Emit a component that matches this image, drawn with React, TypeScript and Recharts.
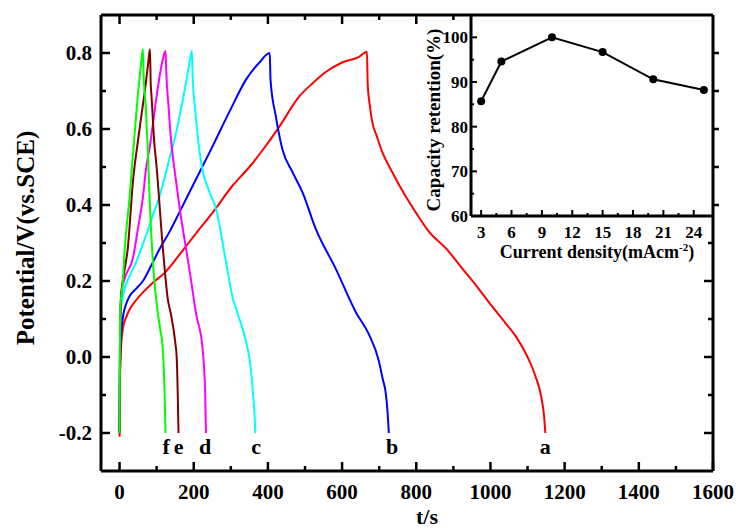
import { LineChart, Line, XAxis, YAxis, ReferenceDot } from 'recharts'

const FONT = '"Liberation Serif", "Times New Roman", serif'

// charge/discharge curves, [time (s), potential (V)]
const curveA: [number, number][] = [
  [0, -0.21], [1, -0.08], [3, 0.0], [5, 0.04], [10, 0.08], [18, 0.105], [30, 0.13], [45, 0.15],
  [63, 0.17], [89, 0.195], [120, 0.22], [170, 0.28], [210, 0.33], [251, 0.38], [304, 0.45],
  [350, 0.5], [390, 0.55], [430, 0.605], [484, 0.685], [520, 0.72], [556, 0.75], [600, 0.775],
  [646, 0.79], [667, 0.803], [669, 0.72], [675, 0.66], [681, 0.62], [694, 0.58], [708, 0.54],
  [735, 0.487], [761, 0.44], [799, 0.38], [834, 0.33], [882, 0.284], [922, 0.235], [960, 0.19],
  [995, 0.145], [1040, 0.09], [1068, 0.055], [1100, 0.0], [1121, -0.05], [1138, -0.11],
  [1145, -0.16], [1148, -0.2],
]
const curveB: [number, number][] = [
  [0, -0.2], [1, -0.05], [3, 0.04], [5, 0.07], [10, 0.11], [18, 0.14], [27, 0.16], [45, 0.18],
  [63, 0.2], [85, 0.24], [108, 0.284], [135, 0.33], [161, 0.38], [197, 0.45], [247, 0.547],
  [296, 0.645], [341, 0.73], [377, 0.775], [405, 0.8], [407, 0.73], [421, 0.635], [439, 0.547],
  [466, 0.487], [493, 0.434], [529, 0.337], [583, 0.232], [637, 0.118], [672, 0.06], [699, -0.01],
  [710, -0.06], [717, -0.09], [723, -0.15], [726, -0.2],
]
const curveC: [number, number][] = [
  [0, -0.2], [1, 0.0], [3, 0.12], [9, 0.16], [27, 0.213], [45, 0.25], [58, 0.284], [75, 0.33],
  [89, 0.37], [110, 0.43], [134, 0.52], [150, 0.58], [161, 0.63], [175, 0.7], [188, 0.77],
  [195, 0.805], [197, 0.74], [203, 0.66], [212, 0.57], [222, 0.5], [240, 0.44], [260, 0.39],
  [287, 0.25], [304, 0.16], [320, 0.11], [341, 0.04], [354, -0.03], [360, -0.1], [364, -0.15],
  [366, -0.2],
]
const curveD: [number, number][] = [
  [0, -0.2], [1, 0.0], [3, 0.14], [5, 0.17], [15, 0.21], [36, 0.26], [50, 0.34], [63, 0.42],
  [72, 0.5], [81, 0.55], [99, 0.68], [110, 0.75], [117, 0.785], [124, 0.805], [126, 0.75],
  [132, 0.66], [139, 0.57], [150, 0.48], [161, 0.4], [175, 0.31], [190, 0.22], [207, 0.11],
  [223, 0.03], [228, -0.03], [231, -0.1], [233, -0.2],
]
const curveE: [number, number][] = [
  [0, -0.2], [1, 0.0], [3, 0.13], [5, 0.17], [12, 0.22], [22, 0.284], [36, 0.46], [54, 0.6],
  [72, 0.73], [78, 0.78], [82, 0.81], [84, 0.72], [86, 0.69], [94, 0.56], [99, 0.51],
  [117, 0.284], [130, 0.153], [139, 0.11], [150, 0.04], [154, 0.0], [157, -0.1], [159, -0.2],
]
const curveF: [number, number][] = [
  [0, -0.2], [1, 0.05], [2, 0.125], [9, 0.2], [13, 0.27], [27, 0.42], [45, 0.64], [59, 0.78],
  [63, 0.81], [65, 0.74], [70, 0.67], [76, 0.55], [81, 0.42], [90, 0.25], [99, 0.15],
  [110, 0.07], [116, 0.03], [121, -0.08], [124, -0.2],
]

const curveNames = ['a', 'b', 'c', 'd', 'e', 'f']
const curveColors = ['#ff0000', '#0000ff', '#00ffff', '#ff00ff', '#800000', '#00ff00']
const curvePoints = [curveA, curveB, curveC, curveD, curveE, curveF]
const labelT = [1148, 735, 368, 231, 159, 126]

const xTicks = [0, 100, 200, 300, 400, 500, 600, 700, 800, 900, 1000, 1100, 1200, 1300, 1400, 1500, 1600]
const yTicks = [-0.2, -0.1, 0.0, 0.1, 0.2, 0.3, 0.4, 0.5, 0.6, 0.7, 0.8]

// inset: capacity retention vs current density
const currentDensity = [3, 5, 10, 15, 20, 25]
const retention = [85.7, 94.6, 100, 96.7, 90.6, 88.2]
const insetXTicks = [3, 4.5, 6, 7.5, 9, 10.5, 12, 13.5, 15, 16.5, 18, 19.5, 21, 22.5, 24]
const insetYTicks = [60, 65, 70, 75, 80, 85, 90, 95, 100]

const insetData = currentDensity.map((x, i) => ({ x, r: retention[i] }))
const frame = [{ t: -50, v: -0.3 }, { t: 1600, v: 0.9 }]

// frame edges of the main plot and the inset's corner (px)
const TOP = 15
const RIGHT = 713
const INSET_LEFT = 471
const INSET_BOTTOM = 216

const txt = { fontFamily: FONT, fontWeight: 'bold', fill: '#000' } as const

const isMajorX = (v: number) => v % 200 === 0
const isMajorY = (v: number) => Math.round(v * 10) % 2 === 0

// bottom tick also draws its mirror on the top frame
function BottomTick({ x, y, payload }: any) {
  const major = isMajorX(payload.value)
  const len = major ? 9 : 5
  return (
    <g>
      <line x1={x} x2={x} y1={y} y2={y - len} stroke="#000" strokeWidth={2.5} />
      {x < INSET_LEFT - 3 && <line x1={x} x2={x} y1={TOP} y2={TOP + len} stroke="#000" strokeWidth={2.5} />}
      {major && <text x={x} y={y + 28} textAnchor="middle" fontSize={21} {...txt}>{payload.value}</text>}
    </g>
  )
}

// left tick also draws its mirror on the right frame (outward beside the inset)
function LeftTick({ x, y, payload }: any) {
  const major = isMajorY(payload.value)
  const len = major ? 9 : 5
  const rx2 = y > INSET_BOTTOM ? RIGHT - len : RIGHT + 6
  return (
    <g>
      <line x1={x} x2={x + len} y1={y} y2={y} stroke="#000" strokeWidth={2.5} />
      <line x1={RIGHT} x2={rx2} y1={y} y2={y} stroke="#000" strokeWidth={2.5} />
      {major && <text x={x - 9} y={y + 7} textAnchor="end" fontSize={21} {...txt}>{payload.value.toFixed(1)}</text>}
    </g>
  )
}

function InsetBottomTick({ x, y, payload }: any) {
  const major = payload.value % 3 === 0
  return (
    <g>
      <line x1={x} x2={x} y1={y} y2={y - (major ? 6 : 3)} stroke="#000" strokeWidth={2} />
      {major && <text x={x} y={y + 22} textAnchor="middle" fontSize={17} {...txt}>{payload.value}</text>}
    </g>
  )
}

function InsetLeftTick({ x, y, payload }: any) {
  const major = payload.value % 10 === 0
  return (
    <g>
      <line x1={x} x2={x + (major ? 6 : 3)} y1={y} y2={y} stroke="#000" strokeWidth={2} />
      {major && <text x={x - 3} y={y + 6} textAnchor="end" fontSize={17} {...txt}>{payload.value}</text>}
    </g>
  )
}

export default function App() {
  return (
    <div style={{ position: 'absolute', left: 0, top: 0, width: 738, height: 529, background: '#fff' }}>
      <LineChart width={738} height={529} margin={{ top: 14, right: 24, bottom: 28, left: 41 }}>
        <XAxis
          xAxisId="bottom" type="number" dataKey="t" domain={[-50, 1600]} ticks={xTicks} interval={0}
          height={30} tickSize={0} tickMargin={0} tickLine={false} tick={<BottomTick />}
          axisLine={{ stroke: '#000', strokeWidth: 3 }}
          label={{ content: () => <text x={427} y={524} textAnchor="middle" fontSize={22} {...txt}>t/s</text> }}
        />
        <XAxis
          xAxisId="top" orientation="top" type="number" dataKey="t" domain={[-50, 1600]}
          height={1} tick={false} tickLine={false} axisLine={{ stroke: '#000', strokeWidth: 3 }}
        />
        <YAxis
          yAxisId="left" type="number" domain={[-0.3, 0.9]} ticks={yTicks} interval={0} width={60}
          tickSize={0} tickMargin={0} tickLine={false} tick={<LeftTick />}
          axisLine={{ stroke: '#000', strokeWidth: 3 }}
          label={{
            content: () => (
              <text x={25} y={238} transform="rotate(-90 25 238)" textAnchor="middle"
                dominantBaseline="central" fontSize={25} {...txt}>Potential/V(vs.SCE)</text>
            ),
          }}
        />
        <YAxis
          yAxisId="right" orientation="right" type="number" domain={[-0.3, 0.9]}
          width={1} tick={false} tickLine={false} axisLine={{ stroke: '#000', strokeWidth: 3 }}
        />
        <Line
          xAxisId="top" yAxisId="right" data={frame} dataKey="v" stroke="none" dot={false}
          isAnimationActive={false} legendType="none"
        />
        {curvePoints.map((pts, i) => (
          <Line
            key={curveNames[i]}
            xAxisId="bottom" yAxisId="left"
            data={pts.map(([t, v]) => ({ t, v }))}
            dataKey="v" type="monotone" stroke={curveColors[i]} strokeWidth={2}
            dot={false} isAnimationActive={false}
          />
        ))}
        {curveNames.map((name, i) => (
          <ReferenceDot
            key={'lbl' + name} xAxisId="bottom" yAxisId="left" x={labelT[i]} y={-0.2} r={0}
            fill="none" stroke="none"
            label={{
              content: (p: any) => (
                <text x={p.viewBox.x} y={p.viewBox.y + 21} textAnchor="middle" fontSize={22} {...txt}>{name}</text>
              ),
            }}
          />
        ))}
      </LineChart>

      <div style={{ position: 'absolute', left: 400, top: 0, width: 338, height: 270 }}>
        <LineChart width={338} height={270} data={insetData} margin={{ top: 15, right: 24, bottom: 24, left: 21 }}>
          <XAxis
            type="number" dataKey="x" domain={[2, 26]} ticks={insetXTicks} interval={0} height={30}
            tickSize={0} tickMargin={0} tickLine={false} tick={<InsetBottomTick />}
            axisLine={{ stroke: '#000', strokeWidth: 3 }}
            label={{
              content: () => (
                <text x={197} y={258} textAnchor="middle" fontSize={18} {...txt}>
                  Current density(mAcm<tspan dy={-7} fontSize={11}>-2</tspan><tspan dy={7}>)</tspan>
                </text>
              ),
            }}
          />
          <YAxis
            type="number" domain={[60, 105]} ticks={insetYTicks} interval={0} width={50}
            tickSize={0} tickMargin={0} tickLine={false} tick={<InsetLeftTick />}
            axisLine={{ stroke: '#000', strokeWidth: 3 }}
            label={{
              content: () => (
                <text x={33} y={120} transform="rotate(-90 33 120)" textAnchor="middle"
                  dominantBaseline="central" fontSize={19} {...txt}>Capacity retention(%)</text>
              ),
            }}
          />
          <Line
            dataKey="r" type="linear" stroke="#000" strokeWidth={2}
            dot={{ r: 4, fill: '#000', stroke: '#000', strokeWidth: 0 }} isAnimationActive={false}
          />
        </LineChart>
      </div>
    </div>
  )
}
